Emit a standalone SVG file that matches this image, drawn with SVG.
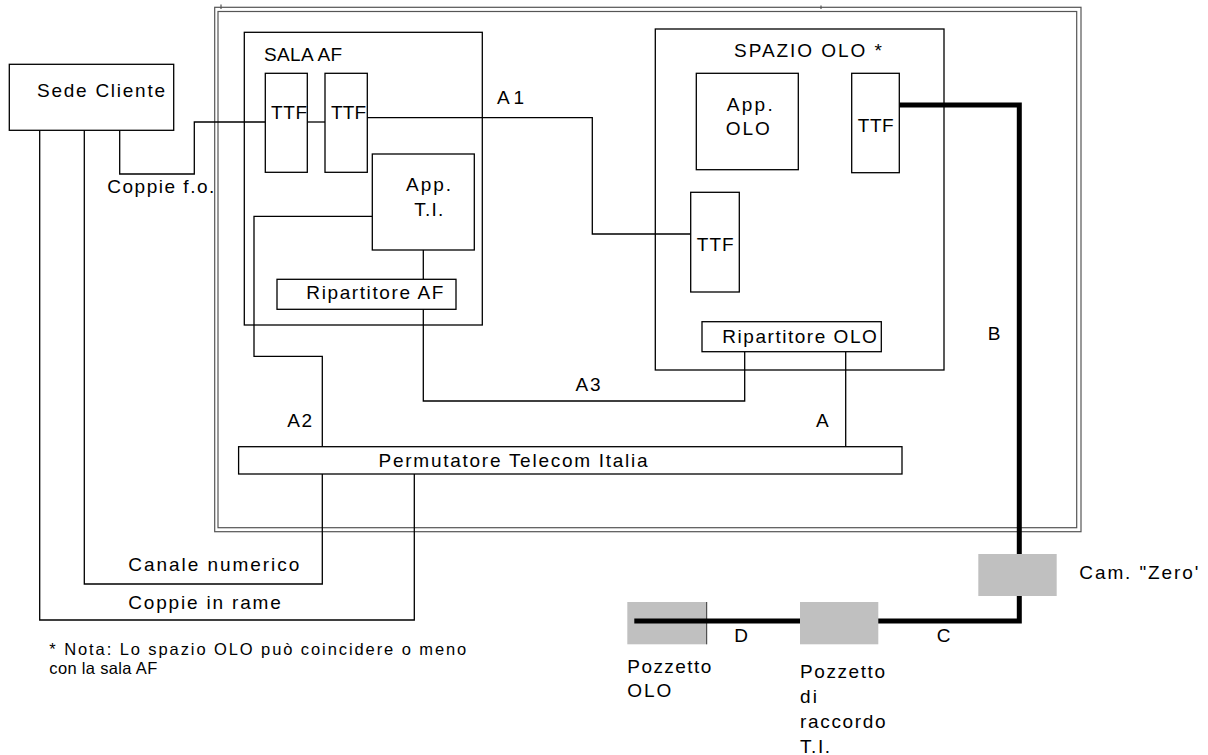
<svg xmlns="http://www.w3.org/2000/svg" width="1208" height="755" viewBox="0 0 1208 755">
<style>
text{font-family:"Liberation Sans",Arial,sans-serif;font-size:19px;fill:#000}
.fn{font-size:16.5px}
.frame{fill:none;stroke:#555;stroke-width:1.2}
.box{fill:#fff;stroke:#000;stroke-width:1.3}
.cont{fill:none;stroke:#000;stroke-width:1.3}
.gray{fill:#c0c0c0;stroke:none}
.ln{fill:none;stroke:#000;stroke-width:1.3}
.thick{fill:none;stroke:#000;stroke-width:5}
</style>
<rect width="1208" height="755" fill="#fff"/>
<g id="frame">
<rect class="frame" x="214.7" y="7.3" width="866.3" height="524.4"/>
<rect class="frame" x="218" y="11.5" width="858.7" height="516.2"/>
<line class="frame" x1="221" y1="4.5" x2="221" y2="9"/>
<line class="frame" x1="821" y1="5.5" x2="821" y2="9"/>
</g>
<g id="sala-af">
<rect class="cont" x="244.3" y="32.3" width="238" height="292.7"/>
<text x="264" y="61" textLength="78" lengthAdjust="spacing">SALA AF</text>
</g>
<g id="spazio-olo">
<rect class="cont" x="655.3" y="29" width="288.7" height="341"/>
<text x="734" y="56.7" textLength="148" lengthAdjust="spacing">SPAZIO OLO *</text>
</g>
<g id="pozzetto-olo">
<rect class="gray" x="627.3" y="602" width="79.4" height="42.3"/>
<line x1="706.7" y1="602" x2="706.7" y2="644.3" stroke="#333" stroke-width="1"/>
<text x="627.3" y="672.7" textLength="84" lengthAdjust="spacing">Pozzetto</text>
<text x="627.3" y="696.7" textLength="44" lengthAdjust="spacing">OLO</text>
</g>
<g id="connectors">
<path class="ln" d="M119.7,130.3 V174 H194.3 V122 H265.3"/>
<path class="ln" d="M307.3,122 H325"/>
<path class="ln" d="M367.3,117.7 H592.3 V234 H690.7"/>
<path class="ln" d="M372.3,216.3 H254 V356.3 H322.3 V446.7"/>
<path class="ln" d="M423.3,250 V279.3"/>
<path class="ln" d="M423.3,309.3 V401 H744.7 V351.7"/>
<path class="ln" d="M845.7,351.7 V446.7"/>
<path class="ln" d="M84.3,130.3 V584 H322.3 V474"/>
<path class="ln" d="M39.7,130.3 V620 H414.3 V474"/>
<path class="thick" d="M899.3,105 H1019.3 V621 H634.3"/>
<text x="497" y="104" textLength="27" lengthAdjust="spacing">A1</text>
<text x="575.6" y="390.7" textLength="25" lengthAdjust="spacing">A3</text>
<text x="287.2" y="426.7" textLength="25" lengthAdjust="spacing">A2</text>
<text x="816" y="426.7">A</text>
<text x="987.7" y="340">B</text>
<text x="936.7" y="641.7">C</text>
<text x="734.3" y="641.7">D</text>
<text x="107.3" y="193.3" textLength="107" lengthAdjust="spacing">Coppie f.o.</text>
<text x="128.3" y="570.7" textLength="171" lengthAdjust="spacing">Canale numerico</text>
<text x="128.3" y="609" textLength="152.5" lengthAdjust="spacing">Coppie in rame</text>
</g>
<g id="sede-cliente">
<rect class="box" x="9.3" y="64.3" width="164.4" height="66"/>
<text x="37" y="96.7" textLength="128" lengthAdjust="spacing">Sede Cliente</text>
</g>
<g id="ttf-af-1">
<rect class="box" x="265.3" y="73.3" width="42" height="99"/>
<text x="271" y="119" textLength="36" lengthAdjust="spacing">TTF</text>
</g>
<g id="ttf-af-2">
<rect class="box" x="325" y="73.3" width="42.3" height="99"/>
<text x="331" y="119" textLength="35" lengthAdjust="spacing">TTF</text>
</g>
<g id="app-ti">
<rect class="box" x="372.3" y="154" width="102" height="96"/>
<text x="406" y="190.7" textLength="45" lengthAdjust="spacing">App.</text>
<text x="414.3" y="215.7" textLength="29" lengthAdjust="spacing">T.I.</text>
</g>
<g id="ripartitore-af">
<rect class="box" x="277" y="279.3" width="179" height="30"/>
<text x="306.3" y="299.3" textLength="137" lengthAdjust="spacing">Ripartitore AF</text>
</g>
<g id="app-olo">
<rect class="box" x="696.3" y="73.3" width="102" height="96.4"/>
<text x="726.7" y="110.7" textLength="46" lengthAdjust="spacing">App.</text>
<text x="725.7" y="135" textLength="44" lengthAdjust="spacing">OLO</text>
</g>
<g id="ttf-olo-top">
<rect class="box" x="851.7" y="73.3" width="47.6" height="99.4"/>
<text x="857.7" y="132.3" textLength="36" lengthAdjust="spacing">TTF</text>
</g>
<g id="ttf-olo-mid">
<rect class="box" x="690.7" y="192.3" width="48.6" height="99.7"/>
<text x="696.7" y="250.7" textLength="37" lengthAdjust="spacing">TTF</text>
</g>
<g id="ripartitore-olo">
<rect class="box" x="702" y="321.7" width="179.3" height="30"/>
<text x="722.3" y="342.7" textLength="154.5" lengthAdjust="spacing">Ripartitore OLO</text>
</g>
<g id="permutatore">
<rect class="box" x="238.6" y="446.7" width="663.4" height="27.3"/>
<text x="378.6" y="467.3" textLength="269" lengthAdjust="spacing">Permutatore Telecom Italia</text>
</g>
<g id="cam-zero">
<rect class="gray" x="978.3" y="554" width="78.4" height="42"/>
<text x="1079.3" y="579.3" textLength="119" lengthAdjust="spacing">Cam. "Zero'</text>
</g>
<g id="pozzetto-raccordo">
<rect class="gray" x="800" y="602" width="78.3" height="42.3"/>
<text x="800" y="678.3" textLength="85" lengthAdjust="spacing">Pozzetto</text>
<text x="800" y="702.7" textLength="17" lengthAdjust="spacing">di</text>
<text x="800" y="728.3" textLength="85.7" lengthAdjust="spacing">raccordo</text>
<text x="800" y="752.5" textLength="30" lengthAdjust="spacing">T.I.</text>
</g>
<g id="nota">
<text class="fn" x="49.3" y="655" textLength="417" lengthAdjust="spacing">* Nota: Lo spazio OLO può coincidere o meno</text>
<text class="fn" x="49.3" y="674" textLength="108" lengthAdjust="spacing">con la sala AF</text>
</g>
</svg>
